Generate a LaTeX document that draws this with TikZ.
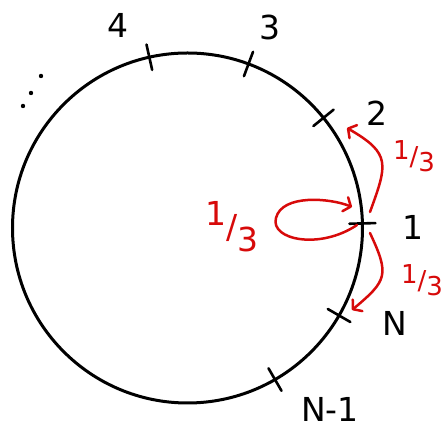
\documentclass[tikz,border=0pt]{standalone}
\usepackage{fontspec}
\setmainfont{DejaVu Sans}
\usetikzlibrary{arrows.meta}
\definecolor{penred}{RGB}{215,10,10}
\newcommand\onethird[1]{\raisebox{#1}{1}/\raisebox{-#1}{3}}
\begin{document}
\begin{tikzpicture}[x=1pt,y=1pt,
  ring/.style={line width=3pt},
  tickmark/.style={line width=2.6pt,line cap=round},
  lbl/.style={inner sep=0pt,font=\fontsize{33}{38}\selectfont},
  redlbl/.style={inner sep=0pt,text=penred,font=\fontsize{26}{30}\selectfont},
  biglbl/.style={inner sep=0pt,text=penred,font=\fontsize{33}{38}\selectfont},
  redarr/.style={draw=penred,line width=2.5pt,line cap=round,
    -{Straight Barb[length=6pt,width=15pt,round]}}]
\useasboundingbox (0,0) rectangle (448,430);
\coordinate (C) at (187.5,202);
\draw[ring] (C) circle[radius=175];
% ticks
\foreach \a/\n in {102.6/t4,69.6/t3,39/t2,1.5/t1,-30/tN,-60/tNm}{
  \path (C) ++(\a:175) coordinate (\n);
  \draw[tickmark] (C) ++(\a:162) -- ++(\a:26);
}
% labels
\node[lbl] (l4) at (118,405) {4};
\node[lbl] (l3) at (270,403) {3};
\node[lbl] (l2) at (377,317) {2};
\node[lbl] (l1) at (413,203) {1};
\node[lbl] (lN) at (395,107) {N};
\node[lbl] (lNm) at (330,21) {N-1};
% dots
\fill (23,324) circle[radius=2.2];
\fill (31,337) circle[radius=2.2];
\fill (41,354) circle[radius=2.2];
% red arrows
\coordinate (up0) at (370,218);
\coordinate (up1) at (347,302);
\draw[redarr] (up0) to[out=70,in=-30,looseness=1.5] (up1);
\coordinate (dn0) at (370,197);
\coordinate (dn1) at (352,120);
\draw[redarr] (dn0) to[out=-65,in=40,looseness=1.5] (dn1);
\coordinate (lp0) at (357,205);
\coordinate (lpm) at (276,212);
\coordinate (lp1) at (352,223);
\draw[redarr] (lp0) .. controls (320,180) and (270,190) .. (lpm)
  .. controls (282,236) and (330,232) .. (lp1);
% red labels
\node[redlbl] (f1) at (414,274) {\onethird{0.22em}};
\node[redlbl] (f2) at (422,150) {\onethird{0.22em}};
\node[biglbl] (f0) at (232,203) {\onethird{0.4em}};
\end{tikzpicture}
\end{document}
